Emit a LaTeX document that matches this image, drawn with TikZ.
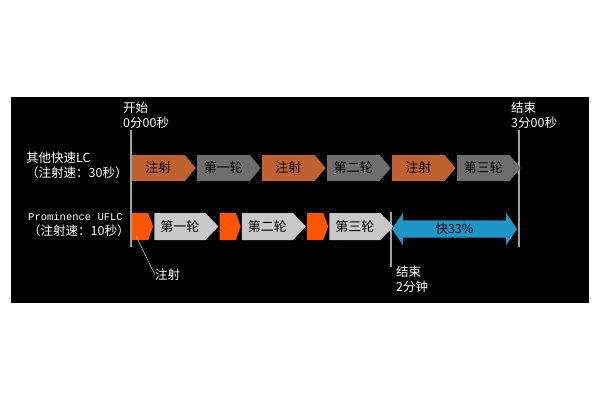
\documentclass[tikz,border=0pt]{standalone}
\usepackage{fontspec}
\setmainfont{Noto Sans CJK SC}
\newfontfamily\monofont{Liberation Mono}
\usepackage{tikz}
\usetikzlibrary{shapes.symbols,shapes.arrows,positioning}

\definecolor{injdark}{RGB}{192,98,47}
\definecolor{rnddark}{RGB}{110,110,110}
\definecolor{injbright}{RGB}{255,85,0}
\definecolor{rndlight}{RGB}{200,200,200}
\definecolor{gainblue}{RGB}{30,150,200}
\definecolor{tickgray}{RGB}{160,160,160}

\tikzset{
  blk/.style={signal,signal to=east,draw=none,inner sep=0pt,text=black,
    font=\fontsize{13}{13}\selectfont},
  injtop/.style={blk,fill=injdark,minimum width=63.5pt,minimum height=26pt,signal pointer angle=100},
  rndtop/.style={blk,fill=rnddark,minimum width=63.5pt,minimum height=26pt,signal pointer angle=100},
  injfast/.style={blk,fill=injbright,minimum width=21pt,minimum height=27pt,signal pointer angle=140},
  rndfast/.style={blk,fill=rndlight,minimum width=64pt,minimum height=27pt,signal pointer angle=92},
  lbl/.style={text=white,inner sep=0pt,align=left,font=\fontsize{12.5}{15}\selectfont},
  tick/.style={tickgray,line width=1.5pt},
}

\begin{document}
\begin{tikzpicture}[x=1pt,y=-1pt]
\useasboundingbox(0,0)rectangle(600,400);
\fill[black](11,97)rectangle(589,303);
% row labels
\node[lbl,anchor=west](other)at(26,165.5){其他快速LC\\（注射速：30秒）};
\node[lbl,anchor=west](ufl)at(28,225){{\monofont\fontsize{10.5}{15}\selectfont Prominence UFLC}\\（注射速：10秒）};
% time marks
\node[lbl,anchor=west](start)at(123,115.5){开始\\0分00秒};
\node[lbl,anchor=west](end3)at(511,115.5){结束\\3分00秒};
\node[lbl,anchor=west](end2)at(396,279.5){结束\\2分钟};
\coordinate(s0)at(131,130);\coordinate(s1)at(131,247);
\coordinate(e0)at(519,130);\coordinate(e1)at(519,247);
\coordinate(m0)at(391,212);\coordinate(m1)at(391,267);
\draw[tick](s0)--(s1);
\draw[tick](e0)--(e1);
\draw[tick](m0)--(m1);
% top row
\node[injtop,anchor=west](t1)at(132,168){注射};
\node[rndtop,right=1pt of t1](t2){第一轮};
\node[injtop,right=1pt of t2](t3){注射};
\node[rndtop,right=1pt of t3](t4){第二轮};
\node[injtop,right=1pt of t4](t5){注射};
\node[rndtop,right=1pt of t5](t6){第三轮};
% bottom row
\node[injfast,anchor=west](b1)at(132,226.5){};
\node[rndfast,right=0.8pt of b1](b2){第一轮};
\node[injfast,right=0.8pt of b2](b3){};
\node[rndfast,right=0.8pt of b3](b4){第二轮};
\node[injfast,right=0.8pt of b4](b5){};
\node[rndfast,right=0.8pt of b5](b6){第三轮};
% saving
\node[double arrow,fill=gainblue,text=black,inner sep=0pt,minimum height=125pt,minimum width=32pt,
  double arrow head extend=5pt,double arrow tip angle=112,font=\fontsize{12.5}{12.5}\selectfont]
  (gain)at(454.5,229){快33\%};
% injection callout
\node[lbl,anchor=west](inj)at(155,275){注射};
\coordinate(p)at(136,236);
\draw[white!85!black,line width=0.5pt](p)--(inj.west);
\end{tikzpicture}
\end{document}
